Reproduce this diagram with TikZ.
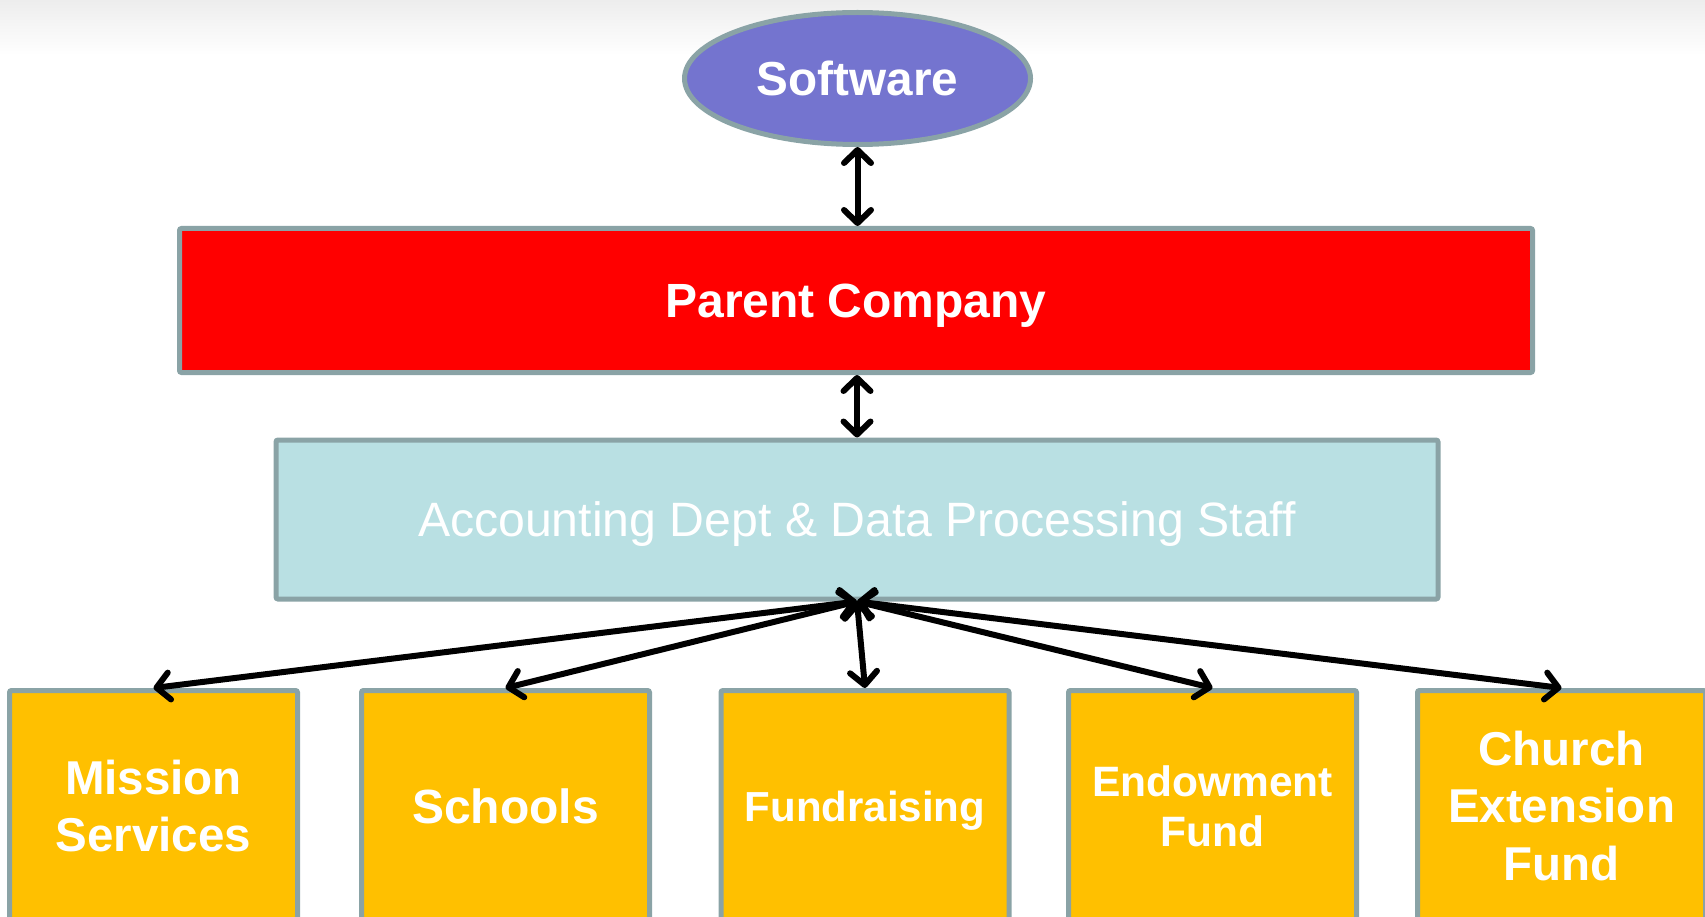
\documentclass[tikz,border=0pt]{standalone}
\usepackage{fontspec}
\setmainfont{Liberation Sans}
\usetikzlibrary{shapes.geometric,arrows.meta}

\definecolor{rimgray}{HTML}{8AA3A6}
\definecolor{softblue}{HTML}{7474CF}
\definecolor{boxred}{HTML}{FF0000}
\definecolor{paleblue}{HTML}{B9E0E3}
\definecolor{gold}{HTML}{FFC000}

\begin{document}
\begin{tikzpicture}[x=1pt,y=-1pt,
    rim/.style={draw=rimgray,line width=5pt,rounded corners=2pt,inner sep=0pt,text=white,align=center},
    unit/.style={rim,fill=gold,minimum width=288,minimum height=231,font=\fontsize{47.5}{57.5}\selectfont\bfseries},
    link/.style={<->,line width=6pt,>={Straight Barb[length=13pt,width=27pt,line cap=round,line join=round]}}]

\clip (0,0) rectangle (1705,917);
\shade [top color=black!7,bottom color=white] (0,0) rectangle (1705,55);



\node (software) at (857.5,78.5) [rim,ellipse,fill=softblue,minimum width=346,minimum height=132,font=\fontsize{47.7}{56}\selectfont\bfseries] {Software};

\node (parent) at (856,300.5) [rim,fill=boxred,minimum width=1353,minimum height=144,text depth=0pt,font=\fontsize{48}{56}\selectfont\bfseries] {Parent Company};

\node (acct) at (857,519.5) [rim,fill=paleblue,minimum width=1162,minimum height=159,text depth=0pt,font=\fontsize{48.2}{58}\selectfont] {Accounting Dept \& Data Processing Staff};



\node (mission) at (153.5,806) [unit] {Mission\\Services};
\node (schools) at (505.5,806) [unit,font=\fontsize{48}{58}\selectfont\bfseries] {Schools};
\node (fund) at (865,806) [unit,text depth=0pt,font=\fontsize{42}{50}\selectfont\bfseries] {Fundraising};
\node (endow) at (1212.5,806) [unit,font=\fontsize{42.5}{50}\selectfont\bfseries] {Endowment\\Fund};
\node (church) at (1561.5,806) [unit] {Church\\Extension\\Fund};



\draw [link] (software.south) -- (software.south |- parent.north);
\draw [link] (acct.north |- parent.south) -- (acct.north);

\foreach \b in {mission,schools,fund,endow,church}
  \draw [link] (acct.south) -- (\b.north);

\end{tikzpicture}
\end{document}
